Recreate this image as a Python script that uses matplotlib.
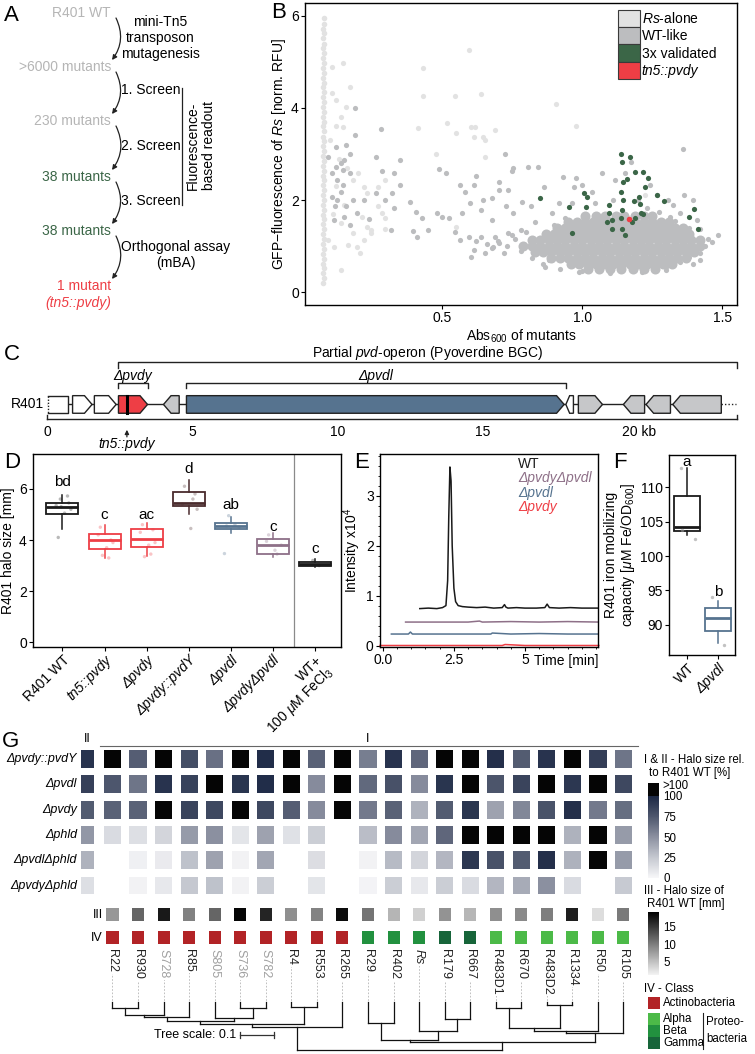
import numpy as np
import matplotlib
matplotlib.use('Agg')
import matplotlib.pyplot as plt
from matplotlib.patches import Patch, Polygon, Rectangle, FancyArrowPatch
from matplotlib.colors import LinearSegmentedColormap, Normalize
from matplotlib.cm import ScalarMappable
from matplotlib.ticker import AutoMinorLocator

plt.rcParams['font.family'] = ['Liberation Sans', 'DejaVu Sans']
plt.rcParams['mathtext.fontset'] = 'custom'
plt.rcParams['mathtext.rm'] = 'Liberation Sans'
plt.rcParams['mathtext.it'] = 'Liberation Sans:italic'
plt.rcParams['font.size'] = 10

W, H = 755, 1054
GF = ['Liberation Sans', 'DejaVu Sans']

# ---------------- A: screening workflow ----------------
steps = ['R401 WT', '>6000 mutants', '230 mutants', '38 mutants', '38 mutants', '1 mutant']
step_kind = ['start', 'start', 'start', 'hit', 'hit', 'final']
actions = ['mini-Tn5\ntransposon\nmutagenesis', '1. Screen', '2. Screen', '3. Screen', 'Orthogonal assay\n(mBA)']

# ---------------- B: screen scatter (Abs600, norm. RFU) ----------------
rs_strip = [(0.075, 0.20), (0.079, 0.30), (0.075, 0.41), (0.079, 0.52), (0.075, 0.62), (0.079, 0.73),
            (0.075, 0.83), (0.079, 0.94), (0.075, 1.05), (0.079, 1.15), (0.075, 1.26), (0.079, 1.37),
            (0.075, 1.47), (0.079, 1.58), (0.075, 1.68), (0.079, 1.79), (0.075, 1.90), (0.079, 2.00),
            (0.075, 2.11), (0.079, 2.22), (0.075, 2.32), (0.079, 2.43), (0.075, 2.53), (0.079, 2.64),
            (0.075, 2.75), (0.079, 2.85), (0.075, 2.96), (0.079, 3.07), (0.075, 3.17), (0.079, 3.28),
            (0.075, 3.38), (0.079, 3.49), (0.075, 3.60), (0.079, 3.70), (0.075, 3.81), (0.079, 3.92),
            (0.075, 4.02), (0.079, 4.13), (0.075, 4.23), (0.079, 4.34), (0.075, 4.45), (0.079, 4.55),
            (0.075, 4.66), (0.079, 4.77), (0.075, 4.87), (0.079, 4.98), (0.075, 5.08), (0.079, 5.19),
            (0.075, 5.30), (0.079, 5.40), (0.075, 5.51), (0.079, 5.62), (0.075, 5.72), (0.079, 5.83),
            (0.077, 5.95)]
rs_pts = [(0.106, 4.90), (0.144, 4.97), (0.170, 4.46), (0.157, 4.03), (0.138, 3.81), (0.119, 4.17),
          (0.106, 4.32), (0.144, 3.59), (0.182, 2.44), (0.201, 2.58), (0.221, 2.29), (0.233, 2.15),
          (0.214, 1.64), (0.233, 1.42), (0.246, 1.28), (0.221, 1.13), (0.163, 1.02), (0.195, 0.99),
          (0.138, 0.48), (0.271, 1.86), (0.284, 1.71), (0.297, 1.60), (0.297, 1.38), (0.246, 1.35),
          (0.271, 2.29), (0.297, 2.44), (0.208, 0.84), (0.182, 1.28), (0.093, 1.13), (0.113, 0.99),
          (0.595, 5.26), (0.430, 4.86), (0.430, 4.25), (0.545, 4.25), (0.640, 4.30), (0.414, 3.56),
          (0.517, 3.67), (0.551, 3.46), (0.602, 3.59), (0.618, 3.59), (0.614, 3.38), (0.646, 3.38),
          (0.652, 3.30), (0.688, 3.53), (0.907, 4.09), (0.977, 3.61), (0.478, 3.00), (0.652, 2.94),
          (0.551, 1.42), (1.224, 2.11), (0.120, 2.30), (0.130, 2.90), (0.100, 3.30), (0.150, 1.90),
          (0.110, 1.70), (0.160, 2.70), (0.120, 3.60), (0.140, 1.50)]
wt_pts = [(0.189, 4.00), (0.189, 3.41), (0.280, 3.54), (0.262, 2.94), (0.284, 2.62), (0.329, 2.58),
          (0.348, 2.88), (0.351, 2.33), (0.320, 2.15), (0.262, 2.16), (0.297, 2.00), (0.386, 1.96),
          (0.329, 1.82), (0.405, 1.75), (0.240, 1.58), (0.396, 1.33), (0.316, 1.35), (0.428, 1.60),
          (0.487, 2.67), (0.513, 2.58), (0.449, 1.35), (0.411, 1.19), (0.481, 1.71), (0.500, 1.64),
          (0.525, 1.60), (0.726, 3.01), (0.754, 2.69), (0.748, 2.62), (0.805, 2.72), (0.841, 2.72),
          (1.361, 3.10), (0.621, 2.52), (0.564, 2.33), (0.583, 2.18), (0.614, 2.33), (0.703, 2.22),
          (0.735, 2.22), (0.703, 2.40), (0.678, 2.04), (0.646, 2.00), (0.599, 1.93), (0.570, 1.71),
          (0.640, 1.78), (0.729, 1.86), (0.786, 1.96), (0.818, 1.86), (0.862, 2.29), (0.830, 1.53),
          (0.754, 1.71), (0.678, 1.57), (0.545, 1.31), (0.595, 1.20), (0.640, 1.20), (0.564, 1.13),
          (0.614, 0.91), (0.602, 0.77), (0.652, 0.84), (0.678, 0.95), (0.703, 1.06), (0.735, 1.28),
          (0.780, 1.35), (0.869, 0.55), (0.932, 2.51), (0.977, 2.47), (1.072, 2.58), (1.174, 2.83),
          (1.243, 2.33), (1.307, 2.00), (1.364, 2.11), (1.396, 2.00), (1.485, 1.24), (1.463, 1.09),
          (1.421, 1.38), (1.396, 0.62), (1.383, 0.77), (1.214, 0.44), (0.989, 0.44),
          (0.106, 2.06), (0.116, 1.86), (0.113, 1.57), (0.125, 2.44), (0.144, 2.65), (0.157, 3.20),
          (0.150, 2.87), (0.170, 3.01), (0.138, 2.80), (0.119, 3.16), (0.093, 2.94), (0.106, 2.58),
          (0.138, 2.18), (0.157, 1.86), (0.182, 2.00), (0.150, 1.64), (0.170, 1.46), (0.195, 1.71),
          (0.221, 2.00), (0.125, 2.00), (0.170, 2.58), (0.144, 2.33), (0.119, 2.72),
          (0.970, 2.29), (1.000, 2.33), (1.034, 2.18), (1.116, 2.44), (1.154, 2.58), (1.199, 2.00),
          (1.269, 2.11), (1.326, 1.89), (0.964, 1.93), (0.894, 1.71), (0.919, 1.93), (1.275, 1.75),
          (1.351, 1.71), (1.046, 1.93), (1.230, 1.82), (1.110, 2.00), (1.313, 1.64), (1.409, 1.57),
          (0.700, 1.12), (0.730, 1.00), (0.760, 1.15), (0.680, 0.98), (0.720, 0.85), (0.660, 1.05),
          (0.620, 1.10), (0.750, 1.25), (0.780, 0.90), (0.690, 1.20), (0.800, 1.30), (0.820, 0.75),
          (0.860, 0.62), (0.920, 0.50), (1.300, 0.55), (1.350, 0.66), (1.420, 0.85), (1.440, 1.00),
          (1.450, 1.15), (0.880, 0.70), (0.840, 0.88), (0.900, 1.45), (0.940, 1.60), (1.330, 1.55),
          (1.380, 1.40), (1.000, 0.45), (1.100, 0.42), (1.300, 0.48), (1.420, 0.70)]
# dense core of the WT-like cloud, read row by row (norm. RFU level, Abs600 values)
wt_core_rows = [
    (1.66, [1.01, 1.05, 1.08, 1.12, 1.15, 1.19, 1.22, 1.25]),
    (1.53, [0.95, 0.98, 1.01, 1.04, 1.07, 1.10, 1.13, 1.16, 1.19, 1.22, 1.25, 1.28, 1.31]),
    (1.40, [0.91, 0.94, 0.97, 1.00, 1.03, 1.06, 1.09, 1.12, 1.15, 1.18, 1.21, 1.24, 1.27, 1.30, 1.33, 1.36]),
    (1.27, [0.87, 0.90, 0.93, 0.96, 0.99, 1.02, 1.05, 1.08, 1.11, 1.14, 1.17, 1.20, 1.23, 1.26, 1.29, 1.32,
            1.35, 1.38]),
    (1.14, [0.82, 0.85, 0.88, 0.91, 0.94, 0.97, 1.00, 1.03, 1.06, 1.09, 1.12, 1.15, 1.18, 1.21, 1.24, 1.27,
            1.30, 1.33, 1.36, 1.39, 1.42]),
    (1.01, [0.79, 0.82, 0.85, 0.88, 0.91, 0.94, 0.97, 1.00, 1.03, 1.06, 1.09, 1.12, 1.15, 1.18, 1.21, 1.24,
            1.27, 1.30, 1.33, 1.36, 1.39, 1.42]),
    (0.88, [0.83, 0.86, 0.89, 0.92, 0.95, 0.98, 1.01, 1.04, 1.07, 1.10, 1.13, 1.16, 1.19, 1.22, 1.25, 1.28,
            1.31, 1.34, 1.37, 1.40]),
    (0.75, [0.89, 0.92, 0.95, 0.98, 1.01, 1.04, 1.07, 1.10, 1.13, 1.16, 1.19, 1.22, 1.25, 1.28, 1.31, 1.34,
            1.37]),
    (0.62, [0.96, 0.99, 1.02, 1.05, 1.08, 1.11, 1.14, 1.17, 1.20, 1.23, 1.26, 1.29, 1.32]),
    (0.51, [1.02, 1.06, 1.10, 1.14, 1.18, 1.22, 1.26]),
]
val_pts = [(0.851, 2.05), (0.954, 1.85), (0.964, 1.28), (1.005, 2.16), (1.018, 2.07), (1.015, 1.85),
           (1.088, 1.53), (1.097, 1.89), (1.097, 1.71), (1.108, 1.38), (1.105, 1.57), (1.140, 3.01),
           (1.143, 2.82), (1.146, 2.40), (1.140, 2.18), (1.146, 2.00), (1.143, 1.78), (1.137, 1.60),
           (1.143, 1.36), (1.153, 1.23), (1.172, 2.94), (1.188, 2.60), (1.185, 1.98), (1.188, 1.60),
           (1.178, 1.53), (1.208, 1.91), (1.210, 1.71), (1.217, 2.60), (1.223, 2.29), (1.236, 2.48),
           (1.268, 2.12), (1.294, 1.98), (1.400, 1.80), (1.383, 1.64), (1.415, 1.36), (1.217, 1.69),
           (1.204, 2.07), (1.160, 2.45)]
pvdy_pts = [(1.169, 1.59)]
b_labels = ['$\\it{Rs}$-alone', 'WT-like', '3x validated', 'tn5::pvdy']
b_colors = ['#e2e2e2', '#bcbdbf', '#3b6647', '#ee3e45']

# ---------------- C: gene map (kb) ----------------
gene_start = [0.05, 0.88, 1.63, 2.46, 4.01, 4.80, 17.86, 18.29, 19.84, 20.62, 21.54]
gene_end = [0.71, 1.55, 2.38, 3.46, 4.55, 17.80, 18.12, 19.12, 20.57, 21.46, 23.21]
gene_strand = [0, 1, 1, 1, -1, 1, -1, 1, -1, -1, -1]
gene_color = ['white', 'white', 'white', '#ee3e45', '#c6c7c9', '#56738f', 'white', '#c6c7c9',
              '#c6c7c9', '#c6c7c9', '#c6c7c9']
tn5_site = 2.75
operon = (2.46, 23.74)
del_pvdy = (2.46, 3.46)
del_pvdl = (4.80, 17.85)
locus_end = 23.74
kb_ticks = [0, 5, 10, 15, 20]

# ---------------- D: halo sizes (mm) ----------------
d_names = ['R401 WT', 'tn5::pvdy', 'Δpvdy', 'Δpvdy::pvdY', 'Δpvdl', 'ΔpvdyΔpvdl',
           'WT+\n100 $\\mu$M FeCl$_3$']
d_italic = [False, True, True, True, True, True, False]
d_lo = [4.43, 3.28, 3.39, 5.01, 4.29, 3.35, 2.96]
d_q1 = [5.01, 3.63, 3.72, 5.32, 4.43, 3.45, 2.99]
d_med = [5.27, 3.99, 4.05, 5.45, 4.55, 3.81, 3.08]
d_q3 = [5.43, 4.25, 4.43, 5.89, 4.65, 4.05, 3.16]
d_hi = [5.76, 4.59, 4.68, 6.36, 4.88, 4.29, 3.25]
d_letters = ['bd', 'c', 'ac', 'd', 'ab', 'c', 'c']
d_letter_y = [6.25, 4.99, 4.99, 6.79, 5.35, 4.52, 3.63]
d_colors = ['#1a1a1a', '#ee3e45', '#ee3e45', '#4a2b2d', '#56738f', '#8e7088', '#1a1a1a']
d_pts_grp = [0, 0, 0, 0, 0, 0, 0, 0, 1, 1, 1, 1, 1, 1, 1, 2, 2, 2, 2, 2, 2, 2,
             3, 3, 3, 3, 3, 3, 4, 4, 4, 4, 4, 5, 5, 5, 5, 5, 6, 6]
d_pts_off = [-0.05, 0.12, -0.15, 0.2, 0.05, -0.1, 0.15, -0.03, -0.1, 0.1, 0.2, -0.15, 0.05, -0.05, 0.15,
             -0.1, 0.1, 0.2, -0.15, 0.05, -0.05, 0.15, -0.1, 0.1, 0.2, -0.15, 0.05, 0.15,
             -0.1, 0.1, 0.2, -0.15, -0.05, -0.1, 0.1, 0.2, -0.15, 0.05, -0.05, 0.1]
d_pts_y = [5.60, 5.72, 5.35, 5.20, 5.05, 4.10, 5.45, 5.30, 4.50, 3.30, 3.90, 4.20, 3.70, 3.40, 4.00,
           4.60, 3.45, 3.90, 4.30, 3.80, 3.35, 4.40, 6.10, 5.60, 5.20, 5.40, 4.45, 5.80,
           4.55, 4.60, 4.50, 3.47, 4.95, 4.20, 3.45, 3.80, 3.95, 3.60, 3.20, 3.00]

# ---------------- E: chromatograms (Intensity x10^4 vs min) ----------------
e_wt_t = [1.30, 1.60, 1.90, 2.10, 2.22, 2.28, 2.32, 2.36, 2.40, 2.44, 2.50, 2.56, 2.65, 2.80, 3.00,
          3.30, 3.60, 3.90, 4.20, 4.28, 4.33, 4.40, 4.70, 5.00, 5.40, 5.70, 5.78, 5.86, 6.20, 6.60,
          7.00, 7.60]
e_wt_i = [0.74, 0.75, 0.74, 0.76, 0.80, 1.30, 2.60, 3.58, 3.30, 2.00, 1.15, 0.88, 0.80, 0.78, 0.77,
          0.76, 0.77, 0.75, 0.76, 0.82, 0.77, 0.75, 0.76, 0.75, 0.75, 0.76, 0.83, 0.76, 0.75, 0.76,
          0.75, 0.75]
e_dd_t = [0.80, 2.00, 3.00, 3.40, 3.50, 4.50, 5.50, 6.50, 7.60]
e_dd_i = [0.47, 0.47, 0.47, 0.49, 0.47, 0.48, 0.47, 0.48, 0.47]
e_pvdl_t = [0.30, 0.90, 0.97, 1.04, 2.00, 3.00, 3.80, 3.85, 4.50, 5.50, 6.50, 7.60]
e_pvdl_i = [0.23, 0.23, 0.27, 0.23, 0.23, 0.23, 0.23, 0.25, 0.23, 0.24, 0.23, 0.23]
e_pvdy_t = [-0.10, 2.00, 4.20, 4.30, 5.00, 7.60]
e_pvdy_i = [0.00, 0.00, 0.00, 0.02, 0.00, 0.00]
e_series = ['WT', 'ΔpvdyΔpvdl', 'Δpvdl', 'Δpvdy']
e_colors = ['#1a1a1a', '#8e7088', '#56738f', '#ee3e45']

# ---------------- F: iron mobilizing capacity ----------------
f_names = ['WT', 'Δpvdl']
f_lo = [103.0, 87.35]
f_q1 = [103.6, 89.1]
f_med = [104.2, 91.0]
f_q3 = [108.7, 92.4]
f_hi = [112.8, 93.5]
f_letters = ['a', 'b']
f_letter_y = [113.7, 94.7]
f_colors = ['#1a1a1a', '#56738f']
f_pts_grp = [0, 0, 0, 1, 1]
f_pts_off = [-0.2, -0.15, 0.25, -0.2, 0.2]
f_pts_y = [112.8, 103.8, 102.5, 94.0, 87.1]

# ---------------- G: halo heatmap ----------------
strains = ['R22', 'R930', 'S728', 'R85', 'S805', 'S736', 'S782', 'R4', 'R553', 'R265', 'R29', 'R402',
           'Rs', 'R179', 'R667', 'R483D1', 'R670', 'R483D2', 'R1334', 'R50', 'R105']
grey_strains = ['S728', 'S805', 'S736', 'S782']
mutants = ['Δpvdy::pvdY', 'Δpvdl', 'Δpvdy', 'Δphld', 'ΔpvdlΔphld', 'ΔpvdyΔphld']
nan = np.nan
# % of R401 WT halo; 120 stands for ">100"
halo_rel = [
    [120, 72, 120, 80, 64, 120, 97, 120, 70, 120, 58, 94, 68, 120, 120, 96, 73, 94, 120, 88, 62],
    [75, 62, 94, 86, 120, 93, 97, 120, 52, 120, 67, 78, 52, 93, 120, 76, 85, 120, 92, 120, 83],
    [70, 70, 120, 85, 83, 120, 83, 72, 52, 120, 60, 70, 35, 73, 93, 42, 54, 77, 96, 60, 65],
    [15, 13, 18, 45, 50, 10, 42, 12, 22, nan, 30, 52, 40, 68, 120, 120, 120, 120, 35, 120, 45],
    [nan, 4, 7, 28, 42, 3, 40, nan, 14, nan, 3, 31, 18, 33, 92, 78, 73, 96, 35, 120, 45],
    [nan, 3, 8, 25, 28, 3, 22, nan, 10, nan, 2, 22, 8, 22, 15, 33, 38, 50, 15, nan, 24],
]
halo_rel_r401 = [94, 87, 73, 47, 35, 13]
halo_r401_mm = [8.0, 11.7, 17.3, 9.6, 11.7, 18.8, 16.5, 8.6, 9.5, 18.3, 10.6, 5.8, 3.8, 8.3, 5.7,
                8.6, 9.0, 9.8, 17.0, 2.8, 10.1]
strain_class = ['Actinobacteria', 'Actinobacteria', 'Actinobacteria', 'Actinobacteria', 'Actinobacteria',
                'Actinobacteria', 'Actinobacteria', 'Actinobacteria', 'Actinobacteria', 'Actinobacteria',
                'Beta', 'Beta', 'Beta', 'Gamma', 'Gamma', 'Alpha', 'Alpha', 'Alpha', 'Alpha', 'Alpha',
                'Alpha']
class_colors = {'Actinobacteria': '#b22326', 'Alpha': '#4cba48', 'Beta': '#22913f', 'Gamma': '#17653a'}
# (node, child a, child b, relative depth; tips = 0, root = 1)
tree_nodes = [
    ('n1', 'R22', 'R930', 0.11), ('n2', 'n1', 'S728', 0.27), ('n3', 'n2', 'R85', 0.30),
    ('n4', 'S736', 'S782', 0.11), ('n5', 'S805', 'n4', 0.32), ('n6', 'n3', 'n5', 0.40),
    ('n7', 'R4', 'R553', 0.10), ('n8', 'n6', 'n7', 0.46), ('n9', 'n8', 'R265', 0.52),
    ('n10', 'R29', 'R402', 0.43), ('n11', 'R179', 'R667', 0.34), ('n12', 'Rs', 'n11', 0.61),
    ('n13', 'n10', 'n12', 0.79), ('n14', 'R483D1', 'R670', 0.11), ('n15', 'R483D2', 'R1334', 0.06),
    ('n16', 'n14', 'n15', 0.53), ('n17', 'n16', 'R50', 0.60), ('n18', 'n17', 'R105', 0.65),
    ('n19', 'n13', 'n18', 0.84), ('root', 'n9', 'n19', 1.00),
]
rel_ticks = [0, 25, 50, 75, 100]
mm_ticks = [5, 10, 15]

# ======================================================================
fig = plt.figure(figsize=(W / 100, H / 100), dpi=100)


def px_axes(x0, y0, x1, y1):
    return fig.add_axes([x0 / W, 1 - y1 / H, (x1 - x0) / W, (y1 - y0) / H])


def gg_frame(ax):
    for s in ax.spines.values():
        s.set_linewidth(1.0)
        s.set_color('black')
    ax.tick_params(direction='out', length=3, width=0.8, labelsize=10, pad=1.5, colors='black')


def panel_label(x, y, s):
    fig.text(x / W, 1 - y / H, s, fontsize=16, va='top', ha='left')


# ---- A ----
axA = px_axes(0, 0, 270, 330)
axA.set_xlim(0, 270)
axA.set_ylim(330, 0)
axA.axis('off')
kind_col = {'start': '#b5b5b5', 'hit': '#3b6647', 'final': '#ee3e45'}
step_y = [13, 67, 121, 177, 231, 286]
for s, k, y in zip(steps, step_kind, step_y):
    axA.text(111, y, s, ha='right', va='center', color=kind_col[k], fontsize=10)
axA.text(111, 303, '(tn5::pvdy)', ha='right', va='center', color=kind_col['final'], fontsize=10,
         style='italic')
act_y = [38, 90, 146, 201, 255]
for a, y in zip(actions, act_y):
    axA.text(121, y, a, ha='left', va='center', ma='center', fontsize=10, linespacing=1.15)
for i in range(len(step_y) - 1):
    arr = FancyArrowPatch((116, step_y[i] + 5), (112, step_y[i + 1] - 7),
                          connectionstyle='arc3,rad=-0.3', arrowstyle='-|>', mutation_scale=7,
                          lw=0.9, color='#222222', shrinkA=0, shrinkB=0)
    axA.add_patch(arr)
axA.plot([182, 182], [88, 205], color='#222222', lw=0.9)
axA.text(201, 146, 'Fluorescence-\nbased readout', rotation=90, ha='center', va='center',
         ma='center', fontsize=10, linespacing=1.2)
panel_label(4, 5, 'A')

# ---- B ----
axB = px_axes(305, 3, 737, 305)
gg_frame(axB)
x, y = zip(*rs_strip)
axB.scatter(x, y, s=16, color=b_colors[0], lw=0, zorder=2)
x, y = zip(*rs_pts)
axB.scatter(x, y, s=14, color=b_colors[0], lw=0, zorder=2)
core_x = [cx for ry, xs in wt_core_rows for cx in xs]
core_y = [ry for ry, xs in wt_core_rows for cx in xs]
axB.scatter(core_x, core_y, s=52, color=b_colors[1], lw=0, zorder=3)
x, y = zip(*wt_pts)
axB.scatter(x, y, s=14, color=b_colors[1], lw=0, zorder=3)
x, y = zip(*val_pts)
axB.scatter(x, y, s=14, color=b_colors[2], lw=0, zorder=4)
x, y = zip(*pvdy_pts)
axB.scatter(x, y, s=16, color=b_colors[3], lw=0, zorder=5)
axB.set_xlim(0.01, 1.553)
axB.set_ylim(-0.28, 6.28)
axB.set_xticks([0.5, 1.0, 1.5])
axB.set_xticklabels(['0.5', '1.0', '1.5'])
axB.set_yticks([0, 2, 4, 6])
axB.set_xlabel('Abs$_{600}$ of mutants', fontsize=10, labelpad=2)
axB.set_ylabel('GFP\u2212fluorescence of $\\it{Rs}$ [norm. RFU]', fontsize=10, labelpad=2)
handles = [Patch(facecolor=c, edgecolor='#3a3a3a', linewidth=0.8) for c in b_colors]
leg = axB.legend(handles, b_labels, loc='upper left', bbox_to_anchor=(0.725, 0.978), frameon=False,
                 handlelength=1.6, handleheight=1.55, handletextpad=0.1, labelspacing=0.0,
                 borderpad=0.0, borderaxespad=0.0, fontsize=10)
leg.get_texts()[3].set_fontstyle('italic')
panel_label(271, 2, 'B')

# ---- C ----
axC = px_axes(0, 340, W, 450)
axC.set_xlim(-1.618, 24.37)
axC.set_ylim(-4.14, 5.86)
axC.axis('off')
gh, head = 0.8, 0.26
axC.plot([gene_start[0], gene_end[-1]], [0, 0], color='#222222', lw=1.0, zorder=1)
axC.plot([gene_end[-1], gene_end[-1] + 0.5], [0, 0], color='#222222', lw=1.0, ls=(0, (1, 1.5)))
for s, e, st, c in zip(gene_start, gene_end, gene_strand, gene_color):
    hl = min(head, 0.5 * (e - s))
    if st == 0:
        axC.add_patch(Rectangle((s, -gh), e - s, 2 * gh, facecolor=c, edgecolor='none', zorder=2))
        axC.plot([s, e, e, s], [gh, gh, -gh, -gh], color='#222222', lw=1.0, zorder=3)
        axC.plot([s, s], [gh, -gh], color='#222222', lw=1.0, ls=(0, (1, 1.2)), zorder=3)
        continue
    if st > 0:
        pts = [(s, -gh), (e - hl, -gh), (e, 0), (e - hl, gh), (s, gh)]
    else:
        pts = [(e, -gh), (s + hl, -gh), (s, 0), (s + hl, gh), (e, gh)]
    axC.add_patch(Polygon(pts, closed=True, facecolor=c, edgecolor='#222222', lw=1.0, zorder=2))
axC.plot([tn5_site, tn5_site], [-gh, gh], color='black', lw=2.2, zorder=4)
# scale
axC.plot([0, locus_end], [-1.35, -1.35], color='#222222', lw=1.0)
for xx in (0, locus_end):
    axC.plot([xx, xx], [-1.35, -0.95], color='#222222', lw=1.0)
for t in kb_ticks:
    lab = '20 kb' if t == 20 else str(t)
    axC.text(t - (0.2 if t == 20 else 0), -2.5, lab, ha='left' if t == 20 else 'center', va='center',
             fontsize=10)
# brackets
axC.plot([operon[0], operon[0], operon[1], operon[1]], [3.35, 3.86, 3.86, 3.35], color='#222222', lw=1.0)
axC.text(sum(operon) / 2, 4.65, 'Partial $\\it{pvd}$-operon (Pyoverdine BGC)', ha='center', va='center',
         fontsize=10)
for (a, b), lab in ((del_pvdy, 'Δpvdy'), (del_pvdl, 'Δpvdl')):
    axC.plot([a, a, b, b], [1.5, 1.95, 1.95, 1.5], color='#222222', lw=1.0)
    axC.text((a + b) / 2, 2.55, lab, ha='center', va='center', style='italic', fontsize=10)
axC.annotate('', xy=(tn5_site, -2.05), xytext=(tn5_site, -3.2),
             arrowprops=dict(arrowstyle='-|>', color='#222222', lw=0.9, mutation_scale=6))
axC.text(tn5_site, -3.62, 'tn5::pvdy', ha='center', va='center', style='italic', fontsize=10,
         clip_on=False)
axC.text(-1.25, 0, 'R401', ha='left', va='center', fontsize=10)
panel_label(4, 344, 'C')


# ---- D ----
def box_stats(lo, q1, med, q3, hi):
    return [dict(whislo=a, q1=b, med=c, q3=d, whishi=e, fliers=[]) for a, b, c, d, e in
            zip(lo, q1, med, q3, hi)]


def draw_boxes(ax, stats, colors, width):
    pos = list(range(1, len(stats) + 1))
    bp = ax.bxp(stats, positions=pos, widths=width, patch_artist=True, showcaps=False,
                showfliers=False, manage_ticks=False)
    for i, c in enumerate(colors):
        bp['boxes'][i].set(facecolor=(1, 1, 1, 0), edgecolor=c, linewidth=1.3)
        bp['medians'][i].set(color=c, linewidth=2.0)
        bp['whiskers'][2 * i].set(color=c, linewidth=1.1)
        bp['whiskers'][2 * i + 1].set(color=c, linewidth=1.1)


axD = px_axes(33, 454, 341, 647)
gg_frame(axD)
draw_boxes(axD, box_stats(d_lo, d_q1, d_med, d_q3, d_hi), d_colors, 0.76)
axD.scatter([g + 1 + o for g, o in zip(d_pts_grp, d_pts_off)], d_pts_y,
            color=[d_colors[g] for g in d_pts_grp], alpha=0.3, s=6, lw=0, zorder=4)
for i, (l, yy) in enumerate(zip(d_letters, d_letter_y)):
    axD.text(i + 1, yy, l, ha='center', va='center', fontsize=11)
axD.axvline(6.5, color='#8a8a8a', lw=0.9)
axD.set_xlim(0.3, 7.62)
axD.set_ylim(-0.18, 7.36)
axD.set_yticks([0, 2, 4, 6])
axD.set_xticks(range(1, 8))
axD.set_xticklabels(d_names, rotation=45, ha='right', rotation_mode='anchor', fontsize=10,
                    linespacing=1.0)
for t, it in zip(axD.get_xticklabels(), d_italic):
    t.set_fontstyle('italic' if it else 'normal')
axD.set_ylabel('R401 halo size [mm]', fontsize=10, labelpad=3)
panel_label(4, 452, 'D')

# ---- E ----
axE = px_axes(380, 454, 598, 647)
gg_frame(axE)
for t, i_, c in ((e_wt_t, e_wt_i, e_colors[0]), (e_dd_t, e_dd_i, e_colors[1]),
                 (e_pvdl_t, e_pvdl_i, e_colors[2]), (e_pvdy_t, e_pvdy_i, e_colors[3])):
    axE.plot(t, i_, color=c, lw=1.1, clip_on=False if c == e_colors[3] else True)
axE.set_xlim(-0.1, 7.57)
axE.set_ylim(-0.03, 3.84)
axE.set_xticks([0, 2.5, 5])
axE.set_xticklabels(['0.0', '2.5', '5'])
axE.set_yticks([0, 1, 2, 3])
axE.xaxis.set_minor_locator(AutoMinorLocator(5))
axE.yaxis.set_minor_locator(AutoMinorLocator(5))
axE.tick_params(which='minor', length=1.5, width=0.6)
axE.set_ylabel('Intensity x10$^4$', fontsize=10, labelpad=2)
axE.text(1.0, -0.035, 'Time [min]', transform=axE.transAxes, ha='right', va='top', fontsize=10)
for k, (s, c) in enumerate(zip(e_series, e_colors)):
    axE.text(0.635, 0.948 - 0.074 * k, s, transform=axE.transAxes, color=c, fontsize=10,
             va='center', ha='left', style='normal' if k == 0 else 'italic')
panel_label(354, 452, 'E')

# ---- F ----
axF = px_axes(669, 455, 735, 655)
gg_frame(axF)
draw_boxes(axF, box_stats(f_lo, f_q1, f_med, f_q3, f_hi), f_colors, 0.85)
axF.scatter([g + 1 + o for g, o in zip(f_pts_grp, f_pts_off)], f_pts_y, color='#9a9a9a', alpha=0.6,
            s=6, lw=0, zorder=4)
for i, (l, yy) in enumerate(zip(f_letters, f_letter_y)):
    axF.text(i + 1, yy, l, ha='center', va='center', fontsize=11)
axF.set_xlim(0.42, 2.55)
axF.set_ylim(85.6, 114.7)
axF.set_yticks([90, 95, 100, 105, 110])
axF.set_xticks([1, 2])
axF.set_xticklabels(f_names, rotation=45, ha='right', rotation_mode='anchor', fontsize=10)
axF.get_xticklabels()[1].set_fontstyle('italic')
axF.set_ylabel('R401 iron mobilizing\ncapacity [$\\mu$M Fe/OD$_{600}$]', fontsize=10, labelpad=2,
               linespacing=1.1)
panel_label(613, 452, 'F')

# ---- G ----
axG = px_axes(0, 735, W, H)
axG.set_xlim(-4.403, 25.147)
axG.set_ylim(11.66, -0.949)
axG.axis('off')
cmap_rel = LinearSegmentedColormap.from_list('rel', ['#f7f7f9', '#c5c8d0', '#8b90a0', '#4e576d', '#1c2844'])
cmap_rel.set_over('#050505')
norm_rel = Normalize(0, 100)
cmap_mm = LinearSegmentedColormap.from_list('mm', ['#f4f4f4', '#000000'])
norm_mm = Normalize(1.1, 19.2)
cw, ch = 0.67, 0.71
for r, row in enumerate(halo_rel):
    for c, v in enumerate(row):
        if np.isnan(v):
            continue
        axG.add_patch(Rectangle((c - cw / 2, r - ch / 2), cw, ch, facecolor=cmap_rel(norm_rel(v)),
                                edgecolor='none'))
    axG.add_patch(Rectangle((-0.98 - 0.255, r - ch / 2), 0.51, ch,
                            facecolor=cmap_rel(norm_rel(halo_rel_r401[r])), edgecolor='none'))
    axG.text(-1.39, r, mutants[r], ha='right', va='center', style='italic', fontsize=9, family=GF)
row_iii, row_iv = 6.16, 7.06
for c, (v, cl) in enumerate(zip(halo_r401_mm, strain_class)):
    axG.add_patch(Rectangle((c - 0.235, row_iii - 0.26), 0.47, 0.52, facecolor=cmap_mm(norm_mm(v)),
                            edgecolor='none'))
    axG.add_patch(Rectangle((c - 0.235, row_iv - 0.26), 0.47, 0.52, facecolor=class_colors[cl],
                            edgecolor='none'))
axG.text(-0.37, row_iii, 'III', ha='right', va='center', fontsize=9, family=GF)
axG.text(-0.37, row_iv, 'IV', ha='right', va='center', fontsize=9, family=GF)
axG.text(-0.98, -0.56, 'II', ha='center', va='bottom', fontsize=9, family=GF)
axG.text(10, -0.56, 'I', ha='center', va='bottom', fontsize=9, family=GF)
axG.plot([-0.49, 20.55], [-0.51, -0.51], color='#666666', lw=0.8)
panel_label(2, 731, 'G')

label_top, tip_y, tree_h = 7.52, 9.62, 1.88
for c, s in enumerate(strains):
    axG.plot([c, c], [label_top + 0.1, tip_y], color='#b5b5b5', lw=0.6, ls=(0, (2, 2)), zorder=1)
    axG.text(c, label_top, s, rotation=270, ha='center', va='top', fontsize=9, family=GF,
             color='#a0a0a0' if s in grey_strains else '#222222',
             style='italic' if s == 'Rs' else 'normal',
             bbox=dict(facecolor='white', edgecolor='none', pad=1.0), zorder=2)
xpos = {s: float(i) for i, s in enumerate(strains)}
depth = {s: 0.0 for s in strains}
for name, a, b, d in tree_nodes:
    yn = tip_y + tree_h * d
    for ch_ in (a, b):
        axG.plot([xpos[ch_], xpos[ch_]], [tip_y + tree_h * depth[ch_], yn], color='#111111', lw=0.9,
                 solid_capstyle='projecting')
    axG.plot([xpos[a], xpos[b]], [yn, yn], color='#111111', lw=0.9, solid_capstyle='projecting')
    xpos[name] = (xpos[a] + xpos[b]) / 2
    depth[name] = d
axG.text(4.85, 10.91, 'Tree scale: 0.1', ha='right', va='center', fontsize=9, family=GF)
axG.plot([4.99, 6.32], [10.91, 10.91], color='#333333', lw=0.9)
for xx in (4.99, 6.32):
    axG.plot([xx, xx], [10.8, 11.02], color='#333333', lw=0.9)

# G legends
LF = 8.3
axL = px_axes(640, 735, W, H)
axL.set_xlim(640, W)
axL.set_ylim(H, 735)
axL.axis('off')
axL.text(644, 760, 'I & II - Halo size rel.', ha='left', va='center', fontsize=LF, family=GF)
axL.text(649, 773, 'to R401 WT [%]', ha='left', va='center', fontsize=LF, family=GF)
axL.add_patch(Rectangle((648, 783), 11, 13, facecolor='#050505', edgecolor='none'))
axL.text(662, 786, '>100', ha='left', va='center', fontsize=LF, family=GF)
cax1 = px_axes(648, 796, 659, 878)
cb1 = fig.colorbar(ScalarMappable(norm=norm_rel, cmap=cmap_rel), cax=cax1, ticks=rel_ticks)
cb1.outline.set_visible(False)
cax1.tick_params(length=0, pad=3, labelsize=LF)
axL.text(644, 891, 'III - Halo size of', ha='left', va='center', fontsize=LF, family=GF)
axL.text(647, 904, 'R401 WT [mm]', ha='left', va='center', fontsize=LF, family=GF)
cax2 = px_axes(648, 912, 659, 975)
cb2 = fig.colorbar(ScalarMappable(norm=norm_mm, cmap=cmap_mm), cax=cax2, ticks=mm_ticks)
cb2.outline.set_visible(False)
cax2.tick_params(length=0, pad=3, labelsize=LF)
axL.text(644, 989, 'IV - Class', ha='left', va='center', fontsize=LF, family=GF)
leg_rows = [('Actinobacteria', 997, 1009), ('Alpha', 1013, 1025), ('Beta', 1025, 1037),
            ('Gamma', 1037, 1049)]
for name, y0, y1 in leg_rows:
    axL.add_patch(Rectangle((648, y0), 12, y1 - y0, facecolor=class_colors[name], edgecolor='none'))
    axL.text(663, (y0 + y1) / 2, name, ha='left', va='center', fontsize=LF, family=GF)
axL.plot([703, 703], [1013, 1049], color='#222222', lw=0.8)
axL.text(706, 1022, 'Proteo-', ha='left', va='center', fontsize=LF, family=GF)
axL.text(706, 1039, 'bacteria', ha='left', va='center', fontsize=LF, family=GF)

fig.savefig('out.png', dpi=100)
